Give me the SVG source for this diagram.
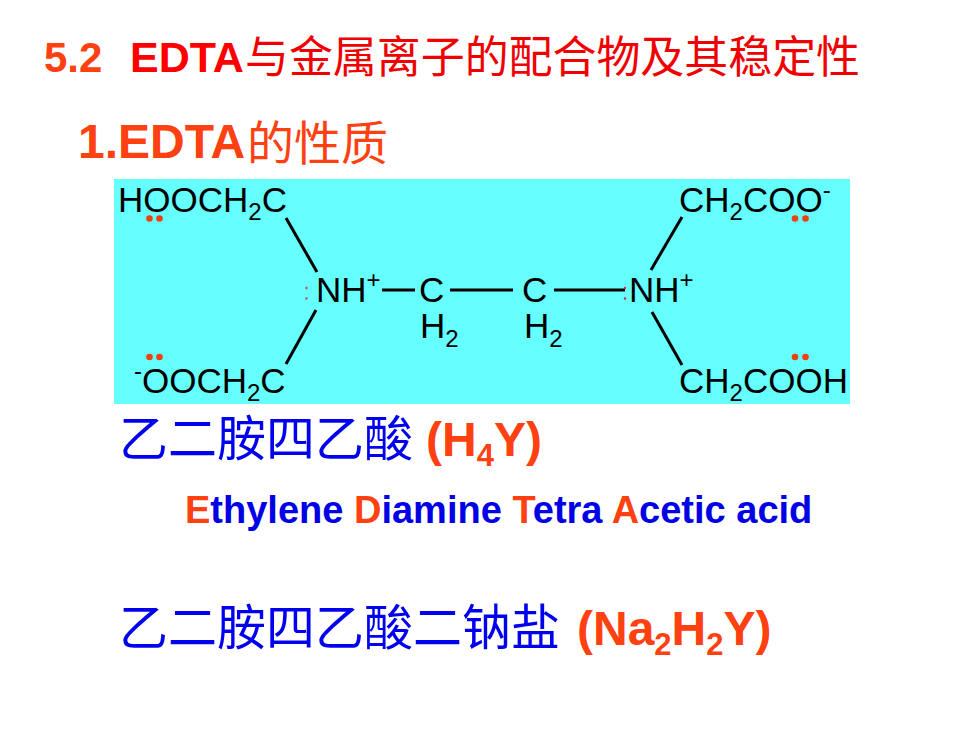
<svg xmlns="http://www.w3.org/2000/svg" width="980" height="735" viewBox="0 0 980 735">
<style>
.l{font-family:"Liberation Sans",Arial,sans-serif}
.b{font-weight:bold}
.c{font-family:"Noto Sans CJK SC",sans-serif}
.m{font-family:"Liberation Sans",Arial,sans-serif;font-size:35px;fill:#000}
.bond{stroke:#000;stroke-width:3;fill:none}
.dot{fill:#f04010}
.sm{font-size:24px}
.o{fill:#ff4010}
.big{font-size:48px}
.sub{font-size:31px}
</style>
<rect width="980" height="735" fill="#fff"/>
<g id="title">
<text x="44" y="72" class="l b o" style="font-size:42px">5.2</text>
<text x="130" y="72" class="l b" fill="#ff0000" style="font-size:43px">EDTA</text>
<text x="245" y="73" class="c" fill="#f00000" style="font-size:44px" textLength="615" lengthAdjust="spacingAndGlyphs">与金属离子的配合物及其稳定性</text>
</g>
<g id="heading">
<text x="78" y="158" class="l b o" style="font-size:48px">1.EDTA</text>
<text x="247" y="160" class="c o" style="font-size:47px">的性质</text>
</g>
<rect id="panel" x="114" y="179" width="736" height="225" fill="#66ffff"/>
<g id="connectors">
<line class="bond" x1="286" y1="218" x2="317" y2="272"/>
<line class="bond" x1="316" y1="310" x2="286" y2="364"/>
<line class="bond" x1="382" y1="290" x2="415" y2="290"/>
<line class="bond" x1="450" y1="290" x2="513" y2="290"/>
<line class="bond" x1="554" y1="290" x2="625" y2="290"/>
<line class="bond" x1="682" y1="217" x2="651" y2="270"/>
<line class="bond" x1="652" y1="312" x2="682" y2="365"/>
</g>
<g id="group-hooch2c"><text class="m" x="118" y="212">HOOCH<tspan class="sm" dy="8">2</tspan><tspan dy="-8">C</tspan></text>
<circle class="dot" cx="149.500" cy="218.500" r="3.300"/><circle class="dot" cx="159.500" cy="218.500" r="3.300"/></g>
<g id="group-ch2coo"><text class="m" x="679" y="212">CH<tspan class="sm" dy="8">2</tspan><tspan dy="-8">COO</tspan><tspan class="sm" dy="-14">-</tspan></text>
<circle class="dot" cx="795" cy="218.500" r="3.300"/><circle class="dot" cx="805.500" cy="218.500" r="3.300"/></g>
<g id="group-nh-left"><text class="m" x="316" y="302">NH<tspan class="sm" dy="-14">+</tspan></text>
<circle cx="306.500" cy="288" r="1.200" fill="#c05060"/><circle cx="306.500" cy="298.500" r="1.200" fill="#c05060"/></g>
<g id="group-c-left"><text class="m" x="419" y="302">C</text><text class="m" x="420" y="338">H<tspan class="sm" dy="9">2</tspan></text></g>
<g id="group-c-right"><text class="m" x="522" y="302">C</text><text class="m" x="524" y="338">H<tspan class="sm" dy="9">2</tspan></text></g>
<g id="group-nh-right"><text class="m" x="629" y="302">NH<tspan class="sm" dy="-14">+</tspan></text>
<circle cx="625" cy="288" r="1.200" fill="#e02040"/><circle cx="625" cy="298.500" r="1.200" fill="#e02040"/></g>
<g id="group-ooch2c"><text class="m" x="134" y="393"><tspan class="sm" dy="-14">-</tspan><tspan dy="14">OOCH</tspan><tspan class="sm" dy="8">2</tspan><tspan dy="-8">C</tspan></text>
<circle class="dot" cx="149.500" cy="357" r="3.300"/><circle class="dot" cx="159.500" cy="357" r="3.300"/></g>
<g id="group-ch2cooh"><text class="m" x="679" y="393">CH<tspan class="sm" dy="8">2</tspan><tspan dy="-8">COOH</tspan></text>
<circle class="dot" cx="795" cy="357" r="3.300"/><circle class="dot" cx="805.500" cy="357" r="3.300"/></g>
<g id="name-h4y">
<text x="119" y="456" class="c" fill="#0000ee" style="font-size:49px">乙二胺四乙酸</text>
<text x="426" y="456" class="l b o big">(H<tspan dy="10" class="sub">4</tspan><tspan dy="-10">Y)</tspan></text>
</g>
<g id="english" class="l b" style="font-size:38px">
<text x="185" y="523" fill="#0000e6"><tspan class="o">E</tspan>thylene <tspan class="o">D</tspan>iamine <tspan class="o">T</tspan>etra <tspan class="o">A</tspan>cetic acid</text>
</g>
<g id="name-na2h2y">
<text x="119" y="645" class="c" fill="#0000ee" style="font-size:49px">乙二胺四乙酸二钠盐</text>
<text x="577" y="645" class="l b o big">(Na<tspan dy="10" class="sub">2</tspan><tspan dy="-10">H</tspan><tspan dy="10" class="sub">2</tspan><tspan dy="-10">Y)</tspan></text>
</g>
</svg>
